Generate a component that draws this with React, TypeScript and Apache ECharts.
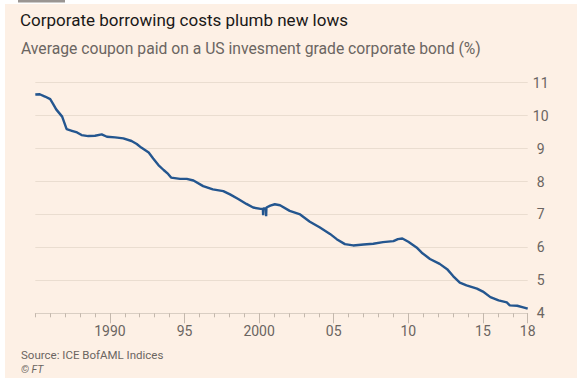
import React, { useEffect, useRef } from "react";
import * as echarts from "echarts";

const years: number[] = [
  1985.0, 1985.3, 1985.65, 1986.0, 1986.2, 1986.4, 1986.8, 1987.1, 1987.45, 1987.8,
  1988.1, 1988.55, 1989.0, 1989.45, 1989.8, 1990.35, 1990.9, 1991.45, 1991.8, 1992.1,
  1992.6, 1992.9, 1993.25, 1993.6, 1993.9, 1994.1, 1994.7, 1995.15, 1995.6, 1996.25,
  1996.9, 1997.6, 1998.05, 1998.6, 1999.15, 1999.6, 2000.1, 2000.25, 2000.27, 2000.29,
  2000.45, 2000.47, 2000.49, 2000.75, 2001.05, 2001.4, 2002.05, 2002.75, 2003.4, 2004.05,
  2004.75, 2005.2, 2005.75, 2006.3, 2007.0, 2007.65, 2008.3, 2009.0, 2009.3, 2009.6,
  2010.0, 2010.55, 2010.9, 2011.45, 2012.1, 2012.6, 2013.0, 2013.45, 2013.9, 2014.6,
  2015.0, 2015.5, 2016.05, 2016.6, 2016.8, 2017.3, 2017.7, 2018.0,
];
const coupon: number[] = [
  10.64, 10.65, 10.58, 10.5, 10.35, 10.19, 9.97, 9.59, 9.54, 9.49,
  9.41, 9.38, 9.39, 9.43, 9.36, 9.34, 9.31, 9.23, 9.14, 9.03,
  8.88, 8.7, 8.5, 8.35, 8.23, 8.12, 8.08, 8.08, 8.03, 7.86,
  7.76, 7.71, 7.61, 7.47, 7.32, 7.21, 7.17, 7.17, 6.98, 7.18,
  7.19, 6.95, 7.21, 7.27, 7.31, 7.28, 7.11, 7.0, 6.78, 6.61,
  6.41, 6.25, 6.1, 6.06, 6.09, 6.11, 6.16, 6.19, 6.25, 6.27,
  6.17, 6.0, 5.84, 5.65, 5.5, 5.34, 5.13, 4.93, 4.85, 4.75,
  4.66, 4.49, 4.39, 4.33, 4.24, 4.23, 4.18, 4.14,
];
const majorTicks: number[] = [1990, 1995, 2000, 2005, 2010, 2015, 2018];
const majorLabels: string[] = ["1990", "95", "2000", "05", "10", "15", "18"];

const TITLE = "Corporate borrowing costs plumb new lows";
const SUBTITLE = "Average coupon paid on a US invesment grade corporate bond (%)";
const SOURCE = "Source: ICE BofAML Indices";

const FONT = "Roboto, 'Noto Sans', sans-serif";

export default function App() {
  const ref = useRef<HTMLDivElement>(null);
  useEffect(() => {
    if (!ref.current) return;
    const chart = echarts.init(ref.current, undefined, { renderer: "svg" });
    const data = years.map((y, i) => [y, coupon[i]]);
    chart.setOption({
      animation: false,
      backgroundColor: "#ffffff",
      textStyle: { fontFamily: FONT },
      graphic: [
        { type: "rect", z: -10, shape: { x: 5, y: 4, width: 572, height: 374 }, style: { fill: "#fdf0e5" } },
        { type: "rect", shape: { x: 18, y: 0, width: 47, height: 2.5 }, style: { fill: "#9a9592" } },
        {
          type: "text", x: 20, y: 20,
          style: { text: TITLE, fill: "#1a1817", font: `400 17px ${FONT}`, verticalAlign: "middle" },
        },
        {
          type: "text", x: 21, y: 48,
          style: { text: SUBTITLE, fill: "#6b6561", font: `400 15.7px ${FONT}`, verticalAlign: "middle" },
        },
        {
          type: "text", x: 21, y: 355,
          style: { text: SOURCE, fill: "#6b6561", font: `400 11.5px ${FONT}`, verticalAlign: "middle" },
        },
        {
          type: "text", x: 21, y: 369,
          style: { text: "© FT", fill: "#6b6561", font: `italic 400 10.5px ${FONT}`, verticalAlign: "middle" },
        },
      ],
      grid: { left: 35.3, right: 55.3, top: 82.7, bottom: 67.7 },
      xAxis: [
        {
          type: "value", min: 1985, max: 2018, interval: 1, position: "bottom",
          axisLine: { show: true, onZero: false, lineStyle: { color: "#d9cec3", width: 1 } },
          axisTick: { show: true, length: 4, lineStyle: { color: "#c4b8ad" } },
          axisLabel: { show: false },
          splitLine: { show: false },
        },
        {
          type: "value", min: 1985, max: 2018, position: "bottom",
          axisLine: { show: false, onZero: false },
          axisTick: { show: true, length: 10, customValues: majorTicks, lineStyle: { color: "#c4b8ad" } },
          axisLabel: {
            show: true, customValues: majorTicks, margin: 11, fontSize: 14, color: "#6b6561", fontFamily: FONT,
            formatter: (v: number) => { const i = majorTicks.indexOf(Math.round(v)); return i >= 0 ? majorLabels[i] : ""; },
          },
          splitLine: { show: false },
        },
      ],
      yAxis: {
        type: "value", min: 4, max: 11, interval: 1, position: "right",
        axisLine: { show: false }, axisTick: { show: false },
        axisLabel: { align: "center", margin: 13, fontSize: 14, color: "#6b6561", fontFamily: FONT },
        splitLine: { lineStyle: { color: "#eaddd0", width: 1 } },
      },
      series: [
        {
          type: "line", data, xAxisIndex: 0, showSymbol: false, symbol: "none",
          lineStyle: { color: "#24568f", width: 2.4 },
        },
      ],
    });
    return () => chart.dispose();
  }, []);
  return <div ref={ref} style={{ position: "absolute", left: 0, top: 0, width: 583, height: 381 }} />;
}
